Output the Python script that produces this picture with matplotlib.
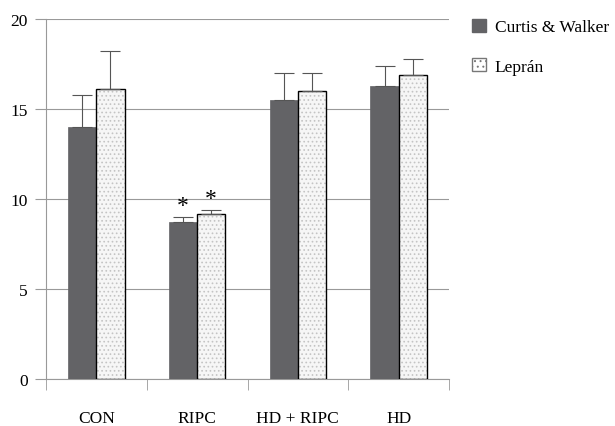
import numpy as np
import matplotlib.pyplot as plt
from matplotlib.patches import Patch

plt.rcParams['font.family'] = ['Liberation Serif', 'DejaVu Serif']
plt.rcParams['hatch.linewidth'] = 0.7

groups = ['CON', 'RIPC', 'HD + RIPC', 'HD']
curtis = [14.0, 8.7, 15.5, 16.3]
curtis_err = [1.8, 0.3, 1.5, 1.1]
lepran = [16.1, 9.15, 16.0, 16.9]
lepran_err = [2.1, 0.25, 1.0, 0.9]
stars = ['', '*', '', '']

x = np.arange(len(groups))
w = 0.28

fig = plt.figure(figsize=(6.15, 4.27), dpi=100)
ax = fig.add_axes([46 / 615, 47 / 427, 403 / 615, 360 / 427])

ax.bar(x - w / 2, curtis, w, color='#636366', edgecolor='#636366', linewidth=0.5, zorder=3)
ax.errorbar(x - w / 2, curtis, yerr=[np.zeros(4), curtis_err], fmt='none',
            ecolor='#555555', elinewidth=0.8, capsize=7, capthick=0.8, zorder=4)
# speckled fill, then black outline
ax.bar(x + w / 2, lepran, w, color='#f6f6f6', edgecolor='#c4c4c4', hatch='....', linewidth=0, zorder=3)
ax.bar(x + w / 2, lepran, w, color='none', edgecolor='black', linewidth=1.0, zorder=4)
ax.errorbar(x + w / 2, lepran, yerr=[np.zeros(4), lepran_err], fmt='none',
            ecolor='#555555', elinewidth=0.8, capsize=7, capthick=0.8, zorder=4)

for i, s in enumerate(stars):
    if s:
        ax.text(x[i] - w / 2, curtis[i] + curtis_err[i] + 0.05, s, ha='center', va='bottom', fontsize=17)
        ax.text(x[i] + w / 2, lepran[i] + lepran_err[i] + 0.05, s, ha='center', va='bottom', fontsize=17)

ax.set_xlim(-0.5, 3.5)
ax.set_ylim(0, 20)
ax.set_yticks([0, 5, 10, 15, 20])
ax.yaxis.grid(True, color='#999999', linewidth=0.8, zorder=0)
ax.set_axisbelow(True)
ax.tick_params(axis='y', length=8, color='#999999', labelsize=12.5, pad=5)

ax.set_xticks(x)
ax.set_xticklabels(groups, fontsize=12.5)
ax.set_xticks(np.arange(-0.5, 4, 1), minor=True)
ax.tick_params(axis='x', which='major', length=0, pad=22)
ax.tick_params(axis='x', which='minor', length=8, color='#999999')

for side in ['top', 'right']:
    ax.spines[side].set_visible(False)
ax.spines['left'].set_color('#999999')
ax.spines['bottom'].set_color('#999999')

handles = [Patch(facecolor='#636366', edgecolor='#636366'),
           Patch(facecolor='white', edgecolor='#777777', hatch='...')]
ax.legend(handles, ['Curtis & Walker', 'Leprán'], loc='upper left', bbox_to_anchor=(1.04, 1.02),
          frameon=False, fontsize=12.5, handlelength=0.8, handleheight=0.8, labelspacing=1.3,
          handletextpad=0.5, borderaxespad=0)

plt.savefig('out.png', dpi=100)
